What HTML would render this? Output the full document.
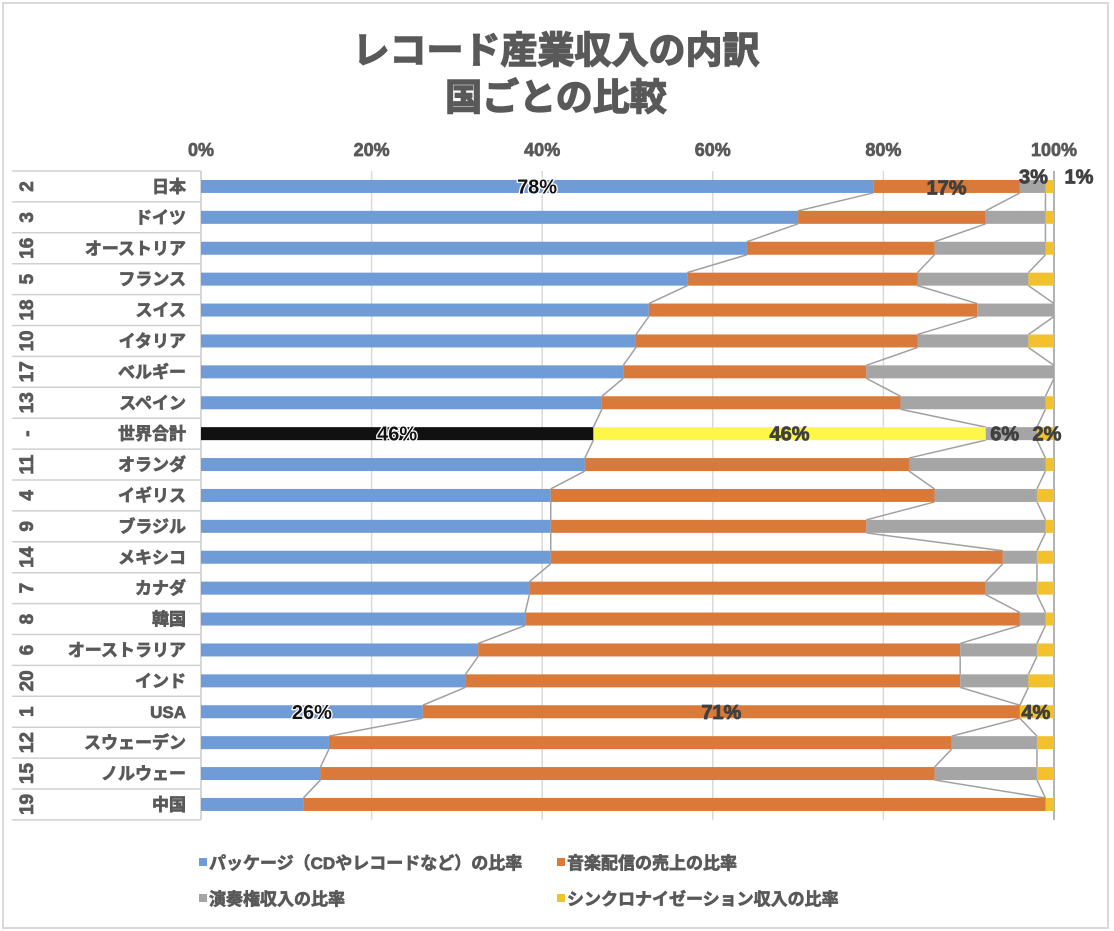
<!DOCTYPE html>
<html><head><meta charset="utf-8">
<style>
html,body{margin:0;padding:0;background:#fff;}
svg{display:block;font-family:"Liberation Sans","Noto Sans CJK JP",sans-serif;}
.b{stroke:#595959;stroke-width:0.7;}
</style></head>
<body>
<svg id="chart" width="1114" height="931" viewBox="0 0 1114 931">
  <rect x="0" y="0" width="1114" height="931" fill="#fff"/>
  <rect x="3" y="3" width="1105" height="925" fill="none" stroke="#d9d9d9" stroke-width="2"/>
  <text x="556" y="63" text-anchor="middle" font-size="37" font-weight="bold" fill="#595959" stroke="#595959" stroke-width="1.4">レコード産業収入の内訳</text>
  <text x="556" y="110" text-anchor="middle" font-size="37" font-weight="bold" fill="#595959" stroke="#595959" stroke-width="1.4">国ごとの比較</text>
  <g id="grid"></g>
  <g id="labels"></g>
  <g id="serieslines"></g>
  <g id="bars"></g>
  <g id="datalabels"></g>
  <g id="legend" font-size="17" font-weight="bold" fill="#595959" stroke="#595959" stroke-width="0.7">
    <rect x="199" y="858" width="8" height="8" fill="#6f9bd6" stroke="none"/>
    <text x="209" y="869">パッケージ（CDやレコードなど）の比率</text>
    <rect x="557" y="858" width="8" height="8" fill="#d9793a" stroke="none"/>
    <text x="567" y="869">音楽配信の売上の比率</text>
    <rect x="199" y="894" width="8" height="8" fill="#a5a5a5" stroke="none"/>
    <text x="209" y="905">演奏権収入の比率</text>
    <rect x="557" y="894" width="8" height="8" fill="#f2c12e" stroke="none"/>
    <text x="567" y="905">シンクロナイゼーション収入の比率</text>
  </g>
</svg>
<script>
const categories = ["日本","ドイツ","オーストリア","フランス","スイス","イタリア","ベルギー","スペイン","世界合計","オランダ","イギリス","ブラジル","メキシコ","カナダ","韓国","オーストラリア","インド","USA","スウェーデン","ノルウェー","中国"];
const ranks = ["2","3","16","5","18","10","17","13","-","11","4","9","14","7","8","6","20","1","12","15","19"];
const packageShare = [78.8,70,64,57,52.5,51,49.5,47,46,45,41,41,41,38.5,38,32.5,31,26,15,14,12];
const streamingShare = [17.2,22,22,27,38.5,33,28.5,35,46,38,45,37,53,53.5,58,56.5,58,70,73,72,87];
const performanceShare = [3,7,13,13,9,13,22,17,6,16,12,21,4,6,3,9,8,0,10,12,0];
const syncShare = [1,1,1,3,0,3,0,1,2,1,2,1,2,2,1,2,3,4,2,2,1];
const xTicks = [0,20,40,60,80,100];
const xTickLabels = ["0%","20%","40%","60%","80%","100%"];

const NS="http://www.w3.org/2000/svg";
const X0=201, X1=1054, Y0=171, STEP=30.9, BH=13;
const xs = v => X0 + (X1-X0)*v/100;
const yc = i => Y0 + STEP*(i+0.5);
function mk(tag, parent, attrs){const e=document.createElementNS(NS,tag);for(const k in attrs)e.setAttribute(k,attrs[k]);parent.appendChild(e);return e;}
const grid=document.getElementById('grid'), labels=document.getElementById('labels'), sl=document.getElementById('serieslines'), bars=document.getElementById('bars'), dl=document.getElementById('datalabels');

xTicks.forEach((t,k)=>{
  const g=mk('line',grid,{x1:xs(t),x2:xs(t),y1:Y0,y2:Y0+STEP*categories.length,stroke:'#d9d9d9','stroke-width':1.5});
  
  
  const tx=mk('text',grid,{x:xs(t),y:156,'text-anchor':'middle','font-size':18,'font-weight':'bold',fill:'#595959',class:'b'});
  tx.textContent=xTickLabels[k];
  
  
});

const n=categories.length;
for(let i=0;i<=n;i++){
  const l=mk('line',labels,{x1:12,x2:201,y1:Y0+STEP*i,y2:Y0+STEP*i,stroke:'#d0d0d0','stroke-width':1.5});
  
  
}
const vb=mk('line',labels,{x1:201,x2:201,y1:Y0,y2:Y0+STEP*n,stroke:'#d0d0d0','stroke-width':1.5});



const segs=[packageShare,streamingShare,performanceShare,syncShare];
const colors=['#6f9bd6','#d9793a','#a5a5a5','#f2c12e'];
const worldColors=['#111111','#fff64a','#a5a5a5','#f2c12e'];
const segNames=['package','streaming','performance','sync'];
const cum=[];
categories.forEach((c,i)=>{
  const y=yc(i);
  const t=mk('text',labels,{x:186,y:y+6,'text-anchor':'end','font-size':17,'font-weight':'bold',fill:'#595959',class:'b'});
  t.textContent=c;
  
  
  const r=mk('text',labels,{x:0,y:0,'text-anchor':'middle','font-size':19,'font-weight':'bold',fill:'#595959',class:'b',transform:`translate(33,${y}) rotate(-90)`});
  r.textContent=ranks[i];
  
  
  let acc=0; const row=[];
  segs.forEach((arr,s)=>{
    const v=arr[i];
    const cols=c==="世界合計"?worldColors:colors;
    if(v>0){
      const b=mk('rect',bars,{x:xs(acc),y:y-BH/2,width:xs(acc+v)-xs(acc),height:BH,fill:cols[s]});
      
      
    }
    acc+=v; row.push(acc);
  });
  cum.push(row);
});
for(let i=0;i<n-1;i++){
  for(let s=0;s<3;s++){
    const l=mk('line',sl,{x1:xs(cum[i][s]),y1:yc(i)+BH/2,x2:xs(cum[i+1][s]),y2:yc(i+1)-BH/2,stroke:'#a0a0a0','stroke-width':1.5});
    
    
  }
}
const rl=mk('line',sl,{x1:X1,x2:X1,y1:Y0,y2:Y0+STEP*n,stroke:'#a0a0a0','stroke-width':1.5});



function lab(txt,x,y,fill,halo){
  const t=mk('text',dl,{x:x,y:y,'text-anchor':'middle','font-size':20,'font-weight':'bold',fill:fill,stroke:fill,'stroke-width':0.8});
  if(halo){t.setAttribute('style','paint-order:stroke');t.setAttribute('stroke','#fff');t.setAttribute('stroke-width','2.5');}
  t.textContent=txt;
  
  
}
const iJ=0, iW=8, iU=17;
lab(Math.floor(packageShare[iJ])+'%',xs(packageShare[iJ]/2),yc(iJ)+7,'#111',true);
lab(Math.round(streamingShare[iJ])+'%',xs(cum[iJ][0]+streamingShare[iJ]/2),yc(iJ)+8,'#404040');
lab(performanceShare[iJ]+'%',xs(cum[iJ][2])-12,yc(iJ)-3,'#404040');
lab(syncShare[iJ]+'%',xs(100)+25,yc(iJ)-3,'#404040');
lab(packageShare[iW]+'%',xs(packageShare[iW]/2),yc(iW)+7,'#111',true);
lab(streamingShare[iW]+'%',xs(cum[iW][0]+streamingShare[iW]/2),yc(iW)+7,'#404040');
lab(performanceShare[iW]+'%',xs(cum[iW][1])+19,yc(iW)+7,'#404040');
lab(syncShare[iW]+'%',xs(100)-7,yc(iW)+7,'#404040');
lab(packageShare[iU]+'%',xs(packageShare[iU]/2),yc(iU)+7,'#111',true);
lab(streamingShare[iU]+1+'%',xs(cum[iU][0]+streamingShare[iU]/2),yc(iU)+7,'#404040');
lab(syncShare[iU]+'%',xs(cum[iU][2])+16,yc(iU)+7,'#404040');
</script>
</body></html>
